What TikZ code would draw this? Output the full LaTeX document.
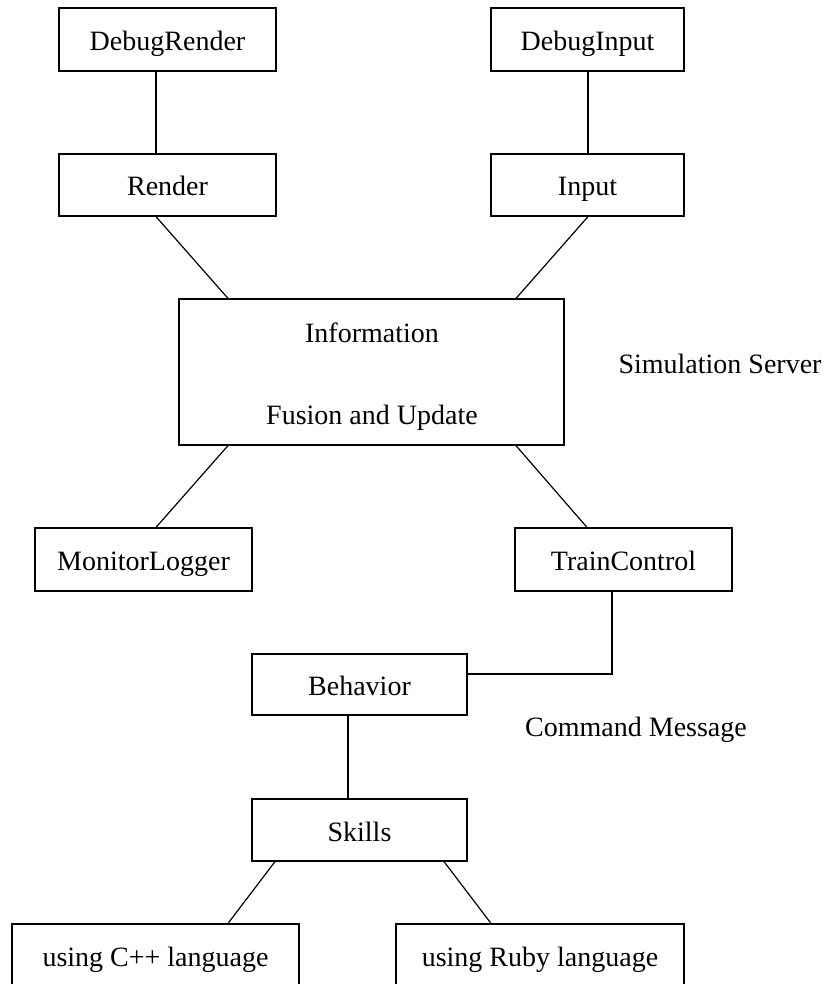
\documentclass[tikz,border=0pt]{standalone}
\usepackage{fontspec}
\setmainfont{Liberation Serif}
\begin{document}
\begin{tikzpicture}[x=1pt,y=-1pt,
  lbl/.style={font=\fontsize{28}{32}\selectfont},
  box/.style={lbl,draw,line width=1.2pt,inner sep=0pt,text height=22pt,text depth=0pt},
  conn/.style={line width=1.2pt}]
\useasboundingbox (0,0) rectangle (826,984);
% boxes
\node[box,minimum width=217pt,minimum height=63pt] (dr) at (167.5,39.5) {DebugRender};
\node[box,minimum width=193pt,minimum height=63pt] (di) at (587.5,39.5) {DebugInput\hspace{16pt}};
\node[box,minimum width=217pt,minimum height=62pt] (r) at (167.5,185) {Render};
\node[box,minimum width=193pt,minimum height=62pt] (in) at (587.5,185) {Input};
\node[draw,line width=1.2pt,minimum width=385pt,minimum height=146pt] (info) at (371.5,372) {};
\node[lbl,anchor=base] (info1) at (372,342) {Information};
\node[lbl,anchor=base] (info2) at (372,424) {Fusion and Update};
\node[box,minimum width=217pt,minimum height=63pt] (ml) at (143.5,559.5) {MonitorLogger};
\node[box,minimum width=217pt,minimum height=63pt] (tc) at (623.5,559.5) {TrainControl};
\node[box,minimum width=215pt,minimum height=61pt] (beh) at (359.5,684.5) {Behavior};
\node[box,minimum width=215pt,minimum height=62pt] (sk) at (359.5,830) {Skills};
\node[box,minimum width=287pt,minimum height=62pt] (cpp) at (155.5,955) {using C++ language};
\node[box,minimum width=288pt,minimum height=62pt] (rb) at (540,955) {using Ruby language};
% free labels
\node[lbl,anchor=base] (ss) at (720,373) {Simulation Server};
\node[lbl,anchor=base] (cm) at (636,736) {Command Message};
% helper x positions
\coordinate (x156) at (156,0);
\coordinate (x588) at (588,0);
\coordinate (x228) at (228,0);
\coordinate (x516) at (516,0);
\coordinate (x587) at (587,0);
\coordinate (x612) at (612,0);
\coordinate (y674) at (0,674);
\coordinate (x348) at (348,0);
\coordinate (x275) at (275,0);
\coordinate (x444) at (444,0);
\coordinate (x491) at (491,0);
% connectors
\draw[conn] (dr.south -| x156) -- (r.north -| x156);
\draw[conn] (di.south -| x588) -- (in.north -| x588);
\draw[conn] (r.south -| x156) -- (info.north -| x228);
\draw[conn] (in.south -| x588) -- (info.north -| x516);
\draw[conn] (info.south -| x228) -- (ml.north -| x156);
\draw[conn] (info.south -| x516) -- (tc.north -| x587);
\draw[conn] (tc.south -| x612) -- (x612 |- y674) -- (beh.east |- y674);
\draw[conn] (beh.south -| x348) -- (sk.north -| x348);
\draw[conn] (sk.south -| x275) -- (cpp.north -| x228);
\draw[conn] (sk.south -| x444) -- (rb.north -| x491);
\end{tikzpicture}
\end{document}
